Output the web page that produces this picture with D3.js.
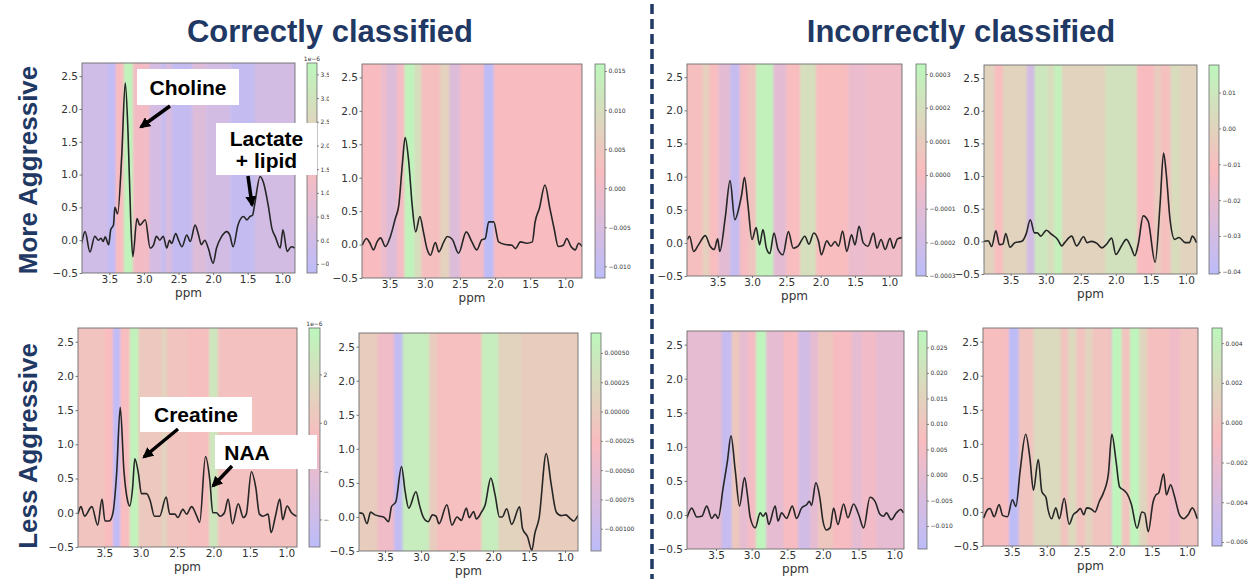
<!DOCTYPE html>
<html>
<head>
<meta charset="utf-8">
<script src="https://cdn.jsdelivr.net/npm/d3@7"></script>
<style>
  body { margin: 0; background: #fff; }
  svg { display: block; }
</style>
</head>
<body>
<svg id="fig" width="1250" height="579"></svg>
<script>
// ---------- spectra: [ppm, intensity] ----------
const specMoreCorrectA = [[3.90,-0.05],[3.85,0.13],[3.78,-0.18],[3.71,0.06],[3.66,0.0],[3.62,0.03],[3.59,-0.02],[3.56,0.05],[3.51,-0.07],[3.48,0.16],[3.44,0.23],[3.42,0.5],[3.38,0.4],[3.32,1.3],[3.27,2.4],[3.23,1.65],[3.19,0.28],[3.16,-0.25],[3.10,0.33],[3.06,0.23],[2.98,0.31],[2.91,-0.12],[2.86,-0.07],[2.82,0.06],[2.77,0.0],[2.72,0.06],[2.67,-0.12],[2.63,0.0],[2.60,-0.05],[2.54,0.1],[2.50,0.0],[2.45,-0.1],[2.38,0.08],[2.33,-0.02],[2.26,0.23],[2.21,0.08],[2.17,-0.07],[2.12,0.0],[2.07,-0.12],[2.00,-0.35],[1.95,-0.12],[1.88,0.05],[1.80,0.13],[1.76,0.08],[1.71,-0.1],[1.64,0.23],[1.56,0.36],[1.51,0.31],[1.47,0.36],[1.43,0.38],[1.40,0.54],[1.32,0.97],[1.27,0.87],[1.20,0.51],[1.15,0.18],[1.10,0.05],[1.03,-0.12],[0.99,0.16],[0.93,-0.17],[0.87,-0.1],[0.82,-0.12]];
const specMoreCorrectB = [[3.89,-0.01],[3.83,0.09],[3.78,0.02],[3.73,-0.08],[3.68,0.04],[3.63,0.1],[3.56,-0.03],[3.49,0.12],[3.42,0.39],[3.37,0.59],[3.32,1.2],[3.28,1.6],[3.23,1.25],[3.18,0.59],[3.13,0.19],[3.07,0.42],[3.02,0.19],[2.97,-0.06],[2.92,-0.16],[2.85,0.03],[2.80,-0.11],[2.73,0.04],[2.68,0.12],[2.61,0.08],[2.52,-0.13],[2.41,0.19],[2.33,0.04],[2.26,-0.08],[2.19,0.07],[2.14,0.09],[2.09,0.34],[2.02,0.34],[1.95,0.04],[1.85,0.0],[1.76,-0.01],[1.71,-0.06],[1.64,0.04],[1.55,0.02],[1.47,0.04],[1.43,0.34],[1.37,0.54],[1.29,0.89],[1.22,0.54],[1.16,0.24],[1.10,-0.03],[1.03,-0.01],[0.98,0.09],[0.92,-0.03],[0.86,-0.08],[0.81,0.02],[0.76,-0.03]];
const specMoreIncorrectA = [[3.94,0.05],[3.91,0.1],[3.85,-0.13],[3.78,-0.03],[3.68,0.11],[3.61,-0.05],[3.55,-0.1],[3.50,0.06],[3.47,-0.13],[3.39,0.38],[3.32,0.94],[3.25,0.35],[3.18,0.58],[3.15,0.73],[3.11,0.99],[3.06,0.58],[3.00,0.05],[2.94,0.23],[2.89,-0.03],[2.84,0.2],[2.79,-0.08],[2.74,-0.16],[2.68,0.15],[2.62,-0.1],[2.55,-0.18],[2.47,0.17],[2.40,-0.08],[2.33,-0.05],[2.23,0.1],[2.17,-0.02],[2.10,0.15],[2.03,0.02],[1.99,-0.18],[1.91,0.03],[1.85,-0.05],[1.79,0.02],[1.74,-0.05],[1.68,0.18],[1.62,-0.13],[1.55,0.12],[1.50,-0.03],[1.44,0.25],[1.38,0.0],[1.31,-0.05],[1.23,0.15],[1.18,-0.08],[1.12,0.05],[1.06,-0.1],[0.99,0.07],[0.94,-0.08],[0.88,0.06],[0.81,0.08]];
const specMoreIncorrectB = [[3.88,0.0],[3.82,0.01],[3.77,-0.08],[3.71,0.16],[3.66,-0.05],[3.61,-0.04],[3.57,0.12],[3.51,-0.09],[3.44,-0.02],[3.34,0.0],[3.28,0.11],[3.22,0.33],[3.16,0.13],[3.12,0.13],[3.07,0.08],[2.99,0.17],[2.92,0.11],[2.83,0.03],[2.77,-0.07],[2.73,-0.02],[2.63,0.08],[2.56,-0.07],[2.46,0.07],[2.41,-0.02],[2.35,0.0],[2.27,-0.03],[2.20,-0.1],[2.13,-0.04],[2.06,0.05],[2.00,-0.2],[1.92,-0.07],[1.85,0.03],[1.78,-0.1],[1.73,-0.22],[1.68,-0.04],[1.61,0.39],[1.54,0.31],[1.44,-0.32],[1.37,0.56],[1.32,1.35],[1.28,1.02],[1.23,0.36],[1.16,0.03],[1.10,0.06],[1.01,-0.02],[0.95,-0.02],[0.91,0.08],[0.85,-0.02]];
const specLessCorrectA = [[3.86,-0.02],[3.82,0.09],[3.77,-0.05],[3.67,0.09],[3.59,-0.18],[3.53,0.2],[3.49,-0.12],[3.43,-0.12],[3.38,0.0],[3.33,0.57],[3.28,1.54],[3.23,0.62],[3.18,0.18],[3.15,0.1],[3.11,0.37],[3.08,0.79],[3.03,0.57],[2.99,0.28],[2.92,0.28],[2.87,0.18],[2.81,-0.05],[2.74,-0.05],[2.65,0.23],[2.60,-0.02],[2.53,-0.02],[2.49,-0.07],[2.42,0.05],[2.37,-0.02],[2.30,0.09],[2.23,-0.05],[2.19,-0.14],[2.11,0.82],[2.05,0.47],[2.01,0.0],[1.96,0.0],[1.91,-0.05],[1.85,0.0],[1.80,0.2],[1.74,-0.16],[1.66,0.13],[1.59,-0.07],[1.55,-0.02],[1.48,0.6],[1.42,0.37],[1.37,-0.02],[1.32,-0.05],[1.25,-0.02],[1.21,-0.29],[1.15,-0.05],[1.09,0.2],[1.05,-0.1],[0.99,0.1],[0.93,0.0],[0.86,-0.05]];
const specLessCorrectB = [[3.86,0.06],[3.81,0.05],[3.75,-0.1],[3.70,0.07],[3.64,0.03],[3.57,0.01],[3.52,0.0],[3.45,-0.07],[3.41,0.15],[3.35,0.22],[3.27,0.74],[3.22,0.37],[3.17,0.13],[3.07,0.37],[3.02,0.17],[2.97,0.0],[2.90,-0.07],[2.84,0.03],[2.79,0.01],[2.75,-0.1],[2.64,0.18],[2.57,-0.12],[2.50,0.0],[2.44,-0.05],[2.37,0.13],[2.33,-0.01],[2.27,0.08],[2.23,-0.03],[2.16,0.07],[2.11,0.17],[2.03,0.57],[1.97,0.32],[1.91,0.0],[1.87,0.0],[1.81,0.12],[1.74,-0.11],[1.63,0.15],[1.59,-0.17],[1.52,-0.29],[1.46,-0.49],[1.42,-0.25],[1.36,-0.02],[1.26,0.93],[1.19,0.47],[1.12,0.07],[1.05,0.02],[0.99,0.03],[0.93,-0.02],[0.88,-0.06],[0.82,0.02]];
const specLessIncorrectA = [[3.91,-0.05],[3.84,0.1],[3.77,-0.03],[3.70,-0.02],[3.63,0.13],[3.56,-0.05],[3.51,0.01],[3.47,-0.05],[3.40,0.4],[3.34,0.79],[3.29,1.16],[3.23,0.65],[3.17,0.13],[3.10,0.55],[3.06,0.3],[3.02,-0.04],[2.95,-0.19],[2.88,0.03],[2.84,-0.02],[2.80,0.03],[2.76,-0.14],[2.67,0.13],[2.63,-0.09],[2.58,0.03],[2.51,-0.05],[2.43,0.13],[2.37,-0.05],[2.30,0.1],[2.23,0.15],[2.19,0.2],[2.16,0.14],[2.10,0.47],[2.04,0.23],[2.00,-0.09],[1.95,-0.22],[1.90,-0.19],[1.85,0.1],[1.79,-0.14],[1.71,0.16],[1.65,-0.04],[1.57,0.16],[1.50,0.01],[1.43,-0.19],[1.34,0.26],[1.27,0.2],[1.20,0.01],[1.15,-0.02],[1.11,0.03],[1.04,-0.07],[0.97,0.03],[0.91,0.08],[0.87,0.03]];
const specLessIncorrectB = [[3.90,-0.09],[3.84,0.04],[3.81,0.05],[3.75,-0.07],[3.68,0.11],[3.63,-0.05],[3.56,-0.07],[3.49,0.18],[3.44,0.08],[3.38,0.6],[3.30,1.14],[3.24,0.79],[3.19,0.32],[3.12,0.77],[3.07,0.3],[3.01,0.21],[2.98,0.03],[2.93,-0.1],[2.87,0.06],[2.82,-0.1],[2.75,0.2],[2.68,-0.18],[2.62,-0.04],[2.57,0.0],[2.52,0.05],[2.47,-0.04],[2.43,0.06],[2.36,0.04],[2.31,0.0],[2.25,0.15],[2.19,0.28],[2.12,0.55],[2.07,1.14],[2.01,0.75],[1.96,0.37],[1.90,0.32],[1.86,0.28],[1.79,0.11],[1.71,-0.24],[1.64,0.0],[1.60,-0.02],[1.55,-0.29],[1.48,0.15],[1.44,0.25],[1.40,0.28],[1.33,0.56],[1.29,0.25],[1.23,0.4],[1.18,0.25],[1.10,-0.05],[1.04,-0.1],[0.98,-0.04],[0.92,0.06],[0.85,-0.1]];

// ---------- attribution bands: [fromPpm, toPpm, attribution] ----------
const attrMoreCorrectA = [[3.95,3.52,0.0],[3.52,3.41,-0.5],[3.41,3.29,1.5],[3.29,3.16,3.6],[3.16,2.92,1.3],[2.92,2.75,0.2],[2.75,2.68,-0.3],[2.68,2.60,0.4],[2.60,2.30,-0.4],[2.30,2.10,0.5],[2.10,1.75,0.1],[1.75,1.40,-0.4],[1.40,0.75,0.1]];
const attrMoreCorrectB = [[3.95,3.62,0.002],[3.62,3.54,-0.001],[3.54,3.40,-0.004],[3.40,3.29,0.001],[3.29,3.15,0.015],[3.15,3.05,0.010],[3.05,2.78,0.003],[2.78,2.65,0.007],[2.65,2.50,-0.004],[2.50,2.16,0.001],[2.16,2.02,-0.011],[2.02,0.70,0.002]];
const attrMoreIncorrectA = [[3.98,3.72,0.00003],[3.72,3.62,0.00012],[3.62,3.49,0.00002],[3.49,3.32,-0.0001],[3.32,3.18,-0.00025],[3.18,3.06,0.0],[3.06,2.94,0.00006],[2.94,2.69,0.0003],[2.69,2.50,-0.0001],[2.50,2.30,0.00002],[2.30,2.07,0.0002],[2.07,1.60,0.00002],[1.60,1.35,-0.00006],[1.35,0.75,-0.00003]];
const attrMoreIncorrectB = [[3.95,3.73,0.0],[3.73,3.61,-0.011],[3.61,3.27,0.0],[3.27,3.16,-0.03],[3.16,2.98,0.01],[2.98,2.88,0.005],[2.88,2.77,0.014],[2.77,2.15,0.0],[2.15,1.70,0.007],[1.70,1.45,-0.012],[1.45,1.36,-0.003],[1.36,1.22,-0.009],[1.22,1.08,0.004],[1.08,0.75,0.0]];
const attrLessCorrectA = [[3.95,3.50,0.0],[3.50,3.38,-0.6],[3.38,3.28,-4.8],[3.28,3.15,-0.5],[3.15,3.03,3.5],[3.03,2.71,0.3],[2.71,2.64,1.2],[2.64,2.35,0.0],[2.35,2.06,-0.4],[2.06,1.94,2.6],[1.94,0.75,-0.2]];
const attrLessCorrectB = [[3.95,3.60,0.0],[3.60,3.375,-0.0004],[3.375,3.255,-0.0011],[3.255,2.885,0.0005],[2.885,2.78,0.0],[2.78,2.16,-0.0002],[2.16,1.925,0.0005],[1.925,1.60,0.0001],[1.60,0.75,0.0]];
const attrLessIncorrectA = [[3.98,3.42,0.0],[3.42,3.28,-0.011],[3.28,3.17,0.011],[3.17,3.06,0.0],[3.06,2.94,0.005],[2.94,2.80,0.027],[2.80,2.55,0.0],[2.55,2.35,0.006],[2.35,2.18,-0.007],[2.18,2.07,0.0],[2.07,1.86,0.011],[1.86,1.60,0.006],[1.60,1.45,0.0],[1.45,1.25,0.004],[1.25,0.75,0.0]];
const attrLessIncorrectB = [[3.98,3.54,-0.0005],[3.54,3.40,-0.006],[3.40,3.19,0.0],[3.19,2.80,0.002],[2.80,2.69,0.0],[2.69,2.58,0.002],[2.58,2.45,0.0],[2.45,2.35,0.0015],[2.35,2.10,0.0],[2.10,2.07,-0.002],[2.07,1.93,0.0045],[1.93,1.81,0.0],[1.81,1.68,0.0045],[1.68,1.56,0.0015],[1.56,1.24,-0.0004],[1.24,1.10,-0.0015],[1.10,0.75,0.0]];

// ---------- colour-bar limits and ticks ----------
const cbarMoreCorrectA = [-0.69, 3.74];
const cbarMoreCorrectB = [-0.0115, 0.0159];
const cbarMoreIncorrectA = [-0.0003, 0.00033];
const cbarMoreIncorrectB = [-0.0406, 0.0177];
const cbarLessCorrectA = [-5.14, 3.92];
const cbarLessCorrectB = [-0.00119, 0.00067];
const cbarLessIncorrectA = [-0.0145, 0.0282];
const cbarLessIncorrectB = [-0.0062, 0.00476];

const cbTicksMoreCorrectA = [-0.5, 0, 0.5, 1, 1.5, 2, 2.5, 3, 3.5];
const cbTicksMoreCorrectB = [-0.010, -0.005, 0, 0.005, 0.010, 0.015];
const cbTicksMoreIncorrectA = [-0.0003, -0.0002, -0.0001, 0, 0.0001, 0.0002, 0.0003];
const cbTicksMoreIncorrectB = [-0.04, -0.03, -0.02, -0.01, 0, 0.01];
const cbTicksLessCorrectA = [-4, -2, 0, 2];
const cbTicksLessCorrectB = [-0.001, -0.00075, -0.0005, -0.00025, 0, 0.00025, 0.0005];
const cbTicksLessIncorrectA = [-0.010, -0.005, 0, 0.005, 0.010, 0.015, 0.020, 0.025];
const cbTicksLessIncorrectB = [-0.006, -0.004, -0.002, 0, 0.002, 0.004];

// ---------- axis ticks ----------
const ppmTicks = [3.5, 3.0, 2.5, 2.0, 1.5, 1.0];
const intensityTicks = [-0.5, 0.0, 0.5, 1.0, 1.5, 2.0, 2.5];
const intensityDomain = [-0.5, 2.7];

const columnTitles = ["Correctly classified", "Incorrectly classified"];
const rowTitles = ["More Aggressive", "Less Aggressive"];

// ---------- panel layout ----------
const panels = [
  { spec: specMoreCorrectA, bands: attrMoreCorrectA, cbar: cbarMoreCorrectA, cbTicks: cbTicksMoreCorrectA, fmt: ".1f", exp: "1e\u22126",
    ppm: [3.895, 0.816], box: [82, 63, 295, 273], cbx: [307, 317], clipRight: 329 },
  { spec: specMoreCorrectB, bands: attrMoreCorrectB, cbar: cbarMoreCorrectB, cbTicks: cbTicksMoreCorrectB, fmt: ".3f",
    ppm: [3.894, 0.763], box: [362, 64, 582, 278], cbx: [595, 605], clipRight: 648 },
  { spec: specMoreIncorrectA, bands: attrMoreIncorrectA, cbar: cbarMoreIncorrectA, cbTicks: cbTicksMoreIncorrectA, fmt: ".4f",
    ppm: [3.947, 0.815], box: [687, 64, 902, 276], cbx: [916, 926], clipRight: 957 },
  { spec: specMoreIncorrectB, bands: attrMoreIncorrectB, cbar: cbarMoreIncorrectB, cbTicks: cbTicksMoreIncorrectB, fmt: ".2f",
    ppm: [3.88, 0.843], box: [984, 65, 1197, 274], cbx: [1209, 1219], clipRight: 1250 },
  { spec: specLessCorrectA, bands: attrLessCorrectA, cbar: cbarLessCorrectA, cbTicks: cbTicksLessCorrectA, fmt: ".0f", exp: "1e\u22126",
    ppm: [3.86, 0.854], box: [78, 328, 297, 547], cbx: [309, 320], clipRight: 329 },
  { spec: specLessCorrectB, bands: attrLessCorrectB, cbar: cbarLessCorrectB, cbTicks: cbTicksLessCorrectB, fmt: ".5f",
    ppm: [3.861, 0.819], box: [359, 333, 578, 551], cbx: [591, 601], clipRight: 648 },
  { spec: specLessIncorrectA, bands: attrLessIncorrectA, cbar: cbarLessIncorrectA, cbTicks: cbTicksLessIncorrectA, fmt: ".3f",
    ppm: [3.907, 0.863], box: [687, 331, 904, 549], cbx: [918, 927], clipRight: 956 },
  { spec: specLessIncorrectB, bands: attrLessIncorrectB, cbar: cbarLessIncorrectB, cbTicks: cbTicksLessIncorrectB, fmt: ".3f",
    ppm: [3.91, 0.839], box: [983, 328, 1198, 546], cbx: [1212, 1222], clipRight: 1250 }
];

const cmapLow = "#bcbcf9", cmapMid = "#f9bcbf", cmapHigh = "#bcf7bc";
const navy = "#1f3864";

const svg = d3.select("#fig");
const defs = svg.append("defs");

defs.append("filter").attr("id", "soften")
  .attr("x", "-5%").attr("y", "-5%").attr("width", "110%").attr("height", "110%")
  .append("feGaussianBlur").attr("stdDeviation", "1.2 0");

defs.append("marker").attr("id", "head")
  .attr("viewBox", "0 0 10 10").attr("refX", 8).attr("refY", 5)
  .attr("markerWidth", 11).attr("markerHeight", 11)
  .attr("markerUnits", "userSpaceOnUse").attr("orient", "auto")
  .append("path").attr("d", "M0,0 L10,5 L0,10 Z").attr("fill", "#000");

panels.forEach((p, i) => {
  const [x0, y0, x1, y1] = p.box;
  const x = d3.scaleLinear().domain(p.ppm).range([x0, x1]);
  const y = d3.scaleLinear().domain(intensityDomain).range([y1, y0]);
  const mid = (p.cbar[0] + p.cbar[1]) / 2;
  const color = d3.scaleLinear().domain([p.cbar[0], mid, p.cbar[1]])
    .range([cmapLow, cmapMid, cmapHigh]).interpolate(d3.interpolateRgb).clamp(true);

  const g = svg.append("g").attr("class", "panel");
  const cid = "plot-clip-" + i;
  defs.append("clipPath").attr("id", cid).append("rect")
    .attr("x", x0).attr("y", y0).attr("width", x1 - x0).attr("height", y1 - y0);

  // attribution bands behind the spectrum
  const bg = g.append("g").attr("clip-path", `url(#${cid})`)
    .append("g").attr("filter", "url(#soften)");
  bg.selectAll("rect").data(p.bands).join("rect")
    .attr("x", d => x(d[0]))
    .attr("width", d => x(d[1]) - x(d[0]) + 0.5)
    .attr("y", y0 - 2).attr("height", y1 - y0 + 4)
    .attr("fill", d => color(d[2]));

  // spectrum
  const line = d3.line().x(d => x(d[0])).y(d => y(d[1])).curve(d3.curveMonotoneX);
  g.append("path").datum(p.spec)
    .attr("clip-path", `url(#${cid})`)
    .attr("d", line).attr("fill", "none")
    .attr("stroke", "#262626").attr("stroke-width", 1.6).attr("stroke-linejoin", "round");

  // frame
  g.append("rect").attr("x", x0).attr("y", y0).attr("width", x1 - x0).attr("height", y1 - y0)
    .attr("fill", "none").attr("stroke", "#6d6d6d").attr("stroke-width", 0.9);

  // axes
  const fmt1 = d3.format(".1f");
  const xa = g.append("g").attr("transform", `translate(0,${y1})`)
    .call(d3.axisBottom(x).tickValues(ppmTicks).tickFormat(fmt1).tickSize(2).tickPadding(1));
  const ya = g.append("g").attr("transform", `translate(${x0},0)`)
    .call(d3.axisLeft(y).tickValues(intensityTicks).tickFormat(fmt1).tickSize(2.5).tickPadding(1.5));
  [xa, ya].forEach(a => {
    a.select(".domain").remove();
    a.selectAll("line").attr("stroke", "#555").attr("stroke-width", 0.8);
    a.selectAll("text").attr("fill", "#333").attr("font-family", "DejaVu Sans")
      .attr("font-size", 10.5);
  });
  g.append("text").attr("x", (x0 + x1) / 2).attr("y", y1 + 24)
    .attr("text-anchor", "middle").attr("font-family", "DejaVu Sans")
    .attr("font-size", 12).attr("fill", "#333").text("ppm");

  // colour bar
  const [cx0, cx1] = p.cbx;
  const gid = "cbar-grad-" + i;
  const grad = defs.append("linearGradient").attr("id", gid)
    .attr("x1", 0).attr("y1", 1).attr("x2", 0).attr("y2", 0);
  [0, 0.5, 1].forEach((o, k) => grad.append("stop").attr("offset", o)
    .attr("stop-color", [cmapLow, cmapMid, cmapHigh][k]));
  g.append("rect").attr("x", cx0).attr("y", y0).attr("width", cx1 - cx0).attr("height", y1 - y0)
    .attr("fill", `url(#${gid})`).attr("stroke", "#6d6d6d").attr("stroke-width", 0.8);

  const cy = d3.scaleLinear().domain(p.cbar).range([y1, y0]);
  const tid = "cbar-clip-" + i;
  defs.append("clipPath").attr("id", tid).append("rect")
    .attr("x", cx0).attr("y", y0 - 20).attr("width", p.clipRight - cx0).attr("height", y1 - y0 + 40);
  const ca = g.append("g").attr("clip-path", `url(#${tid})`)
    .append("g").attr("transform", `translate(${cx1},0)`)
    .call(d3.axisRight(cy).tickValues(p.cbTicks).tickFormat(d3.format(p.fmt)).tickSize(2).tickPadding(1.5));
  ca.select(".domain").remove();
  ca.selectAll("line").attr("stroke", "#555").attr("stroke-width", 0.7);
  ca.selectAll("text").attr("fill", "#333").attr("font-family", "DejaVu Sans").attr("font-size", 6);
  if (p.exp) {
    g.append("text").attr("x", (cx0 + cx1) / 2).attr("y", y0 - 2)
      .attr("text-anchor", "middle").attr("font-family", "DejaVu Sans")
      .attr("font-size", 6).attr("fill", "#333").text(p.exp);
  }
});

// column titles and divider
svg.selectAll(".coltitle").data(columnTitles).join("text")
  .attr("class", "coltitle")
  .attr("x", (d, i) => [330, 961][i]).attr("y", 42)
  .attr("text-anchor", "middle").attr("font-family", "Liberation Sans, Arial, sans-serif")
  .attr("font-weight", "bold").attr("font-size", 31).attr("fill", navy).text(d => d);

svg.append("line").attr("x1", 652).attr("x2", 652).attr("y1", 4).attr("y2", 579)
  .attr("stroke", navy).attr("stroke-width", 3.5).attr("stroke-dasharray", "10 5");

// row titles
svg.selectAll(".rowtitle").data(rowTitles).join("text")
  .attr("class", "rowtitle")
  .attr("transform", (d, i) => `translate(37,${[170, 446][i]}) rotate(-90)`)
  .attr("text-anchor", "middle").attr("font-family", "Liberation Sans, Arial, sans-serif")
  .attr("font-weight", "bold").attr("font-size", 26).attr("fill", navy).text(d => d);

// metabolite call-outs
const callouts = [
  { lines: ["Choline"], box: [137, 69, 102, 36], arrow: [170, 106, 141, 127] },
  { lines: ["Lactate", "+ lipid"], box: [216, 123, 101, 52], arrow: [248, 176, 252, 205] },
  { lines: ["Creatine"], box: [140, 397, 112, 35], arrow: [178, 429, 144, 457] },
  { lines: ["NAA"], box: [215, 435, 102, 34], arrow: [232, 466, 213, 486], textX: 247 }
];
const co = svg.append("g");
callouts.forEach(c => {
  const [bx, by, bw, bh] = c.box;
  co.append("rect").attr("x", bx).attr("y", by).attr("width", bw).attr("height", bh).attr("fill", "#fff");
  const tx = c.textX || bx + bw / 2;
  const lh = 22;
  const top = by + bh / 2 - (c.lines.length - 1) * lh / 2 + 7.5;
  c.lines.forEach((t, k) => co.append("text").attr("x", tx).attr("y", top + k * lh)
    .attr("text-anchor", "middle").attr("font-family", "Liberation Sans, Arial, sans-serif")
    .attr("font-weight", "bold").attr("font-size", 21).attr("fill", "#000").text(t));
  const [ax1, ay1, ax2, ay2] = c.arrow;
  co.append("line").attr("x1", ax1).attr("y1", ay1).attr("x2", ax2).attr("y2", ay2)
    .attr("stroke", "#000").attr("stroke-width", 3.5).attr("marker-end", "url(#head)");
});
</script>
</body>
</html>
